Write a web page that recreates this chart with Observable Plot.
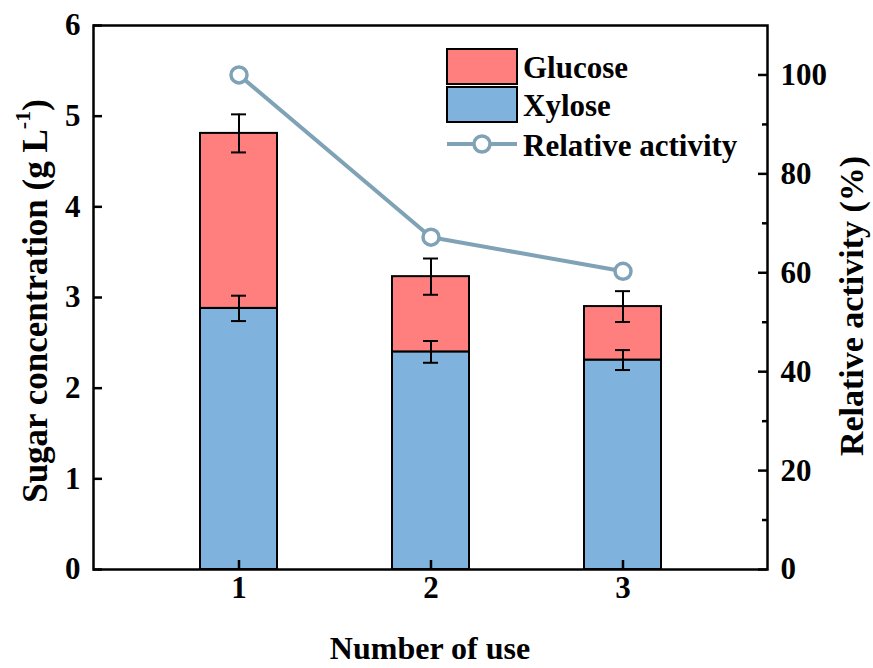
<!DOCTYPE html>
<html><head><meta charset="utf-8">
<script src="https://cdn.jsdelivr.net/npm/d3@7"></script>
<script src="https://cdn.jsdelivr.net/npm/@observablehq/plot@0.6"></script>
<style>body{margin:0;background:#fff}</style>
</head><body><div id="chart"></div>
<script>
const uses = [1, 2, 3];
const xylose = [2.88, 2.40, 2.31];
const xyloseErr = [0.14, 0.12, 0.11];
const glucose = [1.93, 0.83, 0.59];
const totalErr = [0.21, 0.20, 0.17];
const activity = [100, 67.2, 60.3];
const leftTicks = [0, 1, 2, 3, 4, 5, 6];
const rightTicks = [0, 20, 40, 60, 80, 100];
const rightMinor = [10, 30, 50, 70, 90];
const leftMax = 6, rightMax = 110;
const toLeft = v => v * leftMax / rightMax;

const glucoseColor = "#FF7F7F";
const xyloseColor = "#7FB3DD";
const lineColor = "#7FA2B6";
const FONT = "'Liberation Serif', 'Times New Roman', serif";

const rows = uses.map((u, i) => ({
  use: u, xyl: xylose[i], tot: xylose[i] + glucose[i],
  xe: xyloseErr[i], te: totalErr[i], act: activity[i]
}));

const W = 873, H = 668, mL = 93, mR = 106, mT = 25, mB = 99;
const fw = W - mL - mR, fh = H - mT - mB;

const svg = Plot.plot({
  width: W, height: H,
  marginLeft: mL, marginRight: mR, marginTop: mT, marginBottom: mB,
  style: {fontFamily: FONT, fontWeight: "bold", color: "black", background: "white"},
  x: {type: "band", domain: uses, paddingInner: 0.6, paddingOuter: 0.55, axis: null},
  y: {domain: [0, leftMax], axis: null},
  marks: [
    Plot.barY(rows, {x: "use", y1: 0, y2: "xyl", fill: xyloseColor, stroke: "black", strokeWidth: 2}),
    Plot.barY(rows, {x: "use", y1: "xyl", y2: "tot", fill: glucoseColor, stroke: "black", strokeWidth: 2}),
    Plot.ruleX(rows, {x: "use", y1: d => d.xyl - d.xe, y2: d => d.xyl + d.xe, stroke: "black", strokeWidth: 2}),
    Plot.tickY(rows, {x: "use", y: d => d.xyl - d.xe, insetLeft: 31, insetRight: 31, stroke: "black", strokeWidth: 2}),
    Plot.tickY(rows, {x: "use", y: d => d.xyl + d.xe, insetLeft: 31, insetRight: 31, stroke: "black", strokeWidth: 2}),
    Plot.ruleX(rows, {x: "use", y1: d => d.tot - d.te, y2: d => d.tot + d.te, stroke: "black", strokeWidth: 2}),
    Plot.tickY(rows, {x: "use", y: d => d.tot - d.te, insetLeft: 31, insetRight: 31, stroke: "black", strokeWidth: 2}),
    Plot.tickY(rows, {x: "use", y: d => d.tot + d.te, insetLeft: 31, insetRight: 31, stroke: "black", strokeWidth: 2}),
    Plot.line(rows, {x: "use", y: d => toLeft(d.act), stroke: lineColor, strokeWidth: 4}),
    Plot.dot(rows, {x: "use", y: d => toLeft(d.act), r: 8, fill: "white", stroke: lineColor, strokeWidth: 3.5}),
    // inward ticks
    Plot.tickY(leftTicks, {y: d => d, insetRight: fw - 9, stroke: "black", strokeWidth: 2.5}),
    Plot.tickY(rightTicks, {y: d => toLeft(d), insetLeft: fw - 9, stroke: "black", strokeWidth: 2.5}),
    Plot.tickY(rightMinor, {y: d => toLeft(d), insetLeft: fw - 5, stroke: "black", strokeWidth: 2.5}),
    Plot.tickX(uses, {x: d => d, insetTop: fh - 9, stroke: "black", strokeWidth: 2.5}),
    Plot.frame({stroke: "black", strokeWidth: 2.5}),
    // tick labels
    Plot.text(leftTicks, {y: d => d, text: d => String(d), frameAnchor: "left", dx: -13, textAnchor: "end", fontSize: 31, fontWeight: "bold", fill: "black"}),
    Plot.text(rightTicks, {y: d => toLeft(d), text: d => String(d), frameAnchor: "right", dx: 13, textAnchor: "start", fontSize: 31, fontWeight: "bold", fill: "black"}),
    Plot.text(uses, {x: d => d, text: d => String(d), frameAnchor: "bottom", dy: 28, fontSize: 31, fontWeight: "bold", fill: "black"})
  ]
});

const s = d3.select(svg);
// axis titles
const lt = s.append("text")
  .attr("transform", "translate(35,301) rotate(-90)")
  .attr("text-anchor", "middle").attr("dominant-baseline", "central")
  .attr("font-family", FONT).attr("font-weight", "bold").attr("font-size", 35).attr("fill", "black");
lt.append("tspan").text("Sugar concentration (g L");
lt.append("tspan").attr("font-size", 22).attr("baseline-shift", "super").text("-1");
lt.append("tspan").text(")");

s.append("text")
  .attr("transform", "translate(851,306) rotate(-90)")
  .attr("text-anchor", "middle").attr("dominant-baseline", "central")
  .attr("font-family", FONT).attr("font-weight", "bold").attr("font-size", 34).attr("fill", "black")
  .text("Relative activity (%)");

s.append("text")
  .attr("x", mL + fw / 2).attr("y", 648)
  .attr("text-anchor", "middle").attr("dominant-baseline", "central")
  .attr("font-family", FONT).attr("font-weight", "bold").attr("font-size", 32).attr("fill", "black")
  .text("Number of use");

// legend
const lg = s.append("g").attr("font-family", FONT).attr("font-weight", "bold").attr("font-size", 31)
  .attr("fill", "black").attr("text-anchor", "start");
const items = [
  {label: "Glucose", color: glucoseColor, y: 49},
  {label: "Xylose", color: xyloseColor, y: 87}
];
items.forEach(it => {
  lg.append("rect").attr("x", 447).attr("y", it.y).attr("width", 70).attr("height", 35)
    .attr("fill", it.color).attr("stroke", "black").attr("stroke-width", 2);
  lg.append("text").attr("x", 523).attr("y", it.y + 18).attr("text-anchor", "start")
    .attr("dominant-baseline", "central").text(it.label);
});
lg.append("line").attr("x1", 447).attr("x2", 517).attr("y1", 144).attr("y2", 144)
  .attr("stroke", lineColor).attr("stroke-width", 4);
lg.append("circle").attr("cx", 482).attr("cy", 144).attr("r", 8)
  .attr("fill", "white").attr("stroke", lineColor).attr("stroke-width", 3.5);
lg.append("text").attr("x", 523).attr("y", 145).attr("text-anchor", "start")
  .attr("dominant-baseline", "central").text("Relative activity");

document.getElementById("chart").appendChild(svg);
</script>
</body></html>
